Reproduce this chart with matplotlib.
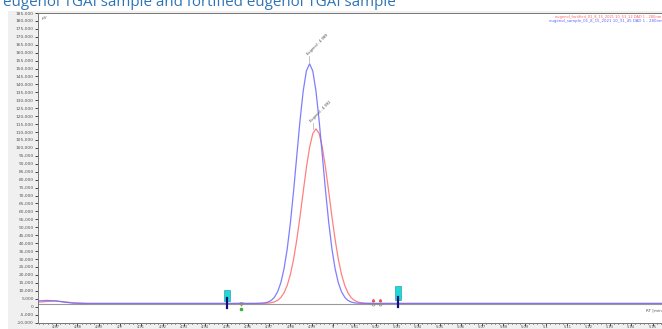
import matplotlib.pyplot as plt
import numpy as np
from matplotlib.patches import Rectangle
from matplotlib.ticker import FuncFormatter, MultipleLocator

title = "eugenol TGAI sample and fortified eugenol TGAI sample"

# retention time (min) and signal (uV)
# baseline before / after the peak
blue_pre_t = [4.8615, 4.866, 4.870, 4.874, 4.878, 4.884, 4.963]
blue_pre_v = [3600, 3900, 3600, 2800, 2200, 2000, 2000]
red_pre_t = [4.8615, 4.866, 4.870, 4.874, 4.879, 4.885, 4.966]
red_pre_v = [2800, 3300, 3500, 3000, 2300, 2000, 2000]
blue_post_t = [5.016, 5.160]
blue_post_v = [2000, 2000]
red_post_t = [5.019, 5.160]
red_post_v = [2000, 2000]

# peak region, sampled every 0.0015 min
blue_peak_t0 = 4.965
blue_peak_v = [2100, 2200, 2400, 2900, 3900, 5900, 9400, 15000, 23800, 36300, 52900,
               72900, 95100, 117000, 135800, 148500, 153000, 148500, 135800, 117000,
               95100, 72900, 52900, 36300, 23800, 15000, 9400, 5900, 3900, 2900,
               2400, 2200, 2100]
red_peak_t0 = 4.968
red_peak_v = [2100, 2200, 2500, 3000, 4000, 5700, 8700, 13400, 20300, 29900, 42200,
              56600, 72300, 87500, 100300, 109000, 112000, 109000, 100300, 87500,
              72300, 56600, 42200, 29900, 20300, 13400, 8700, 5700, 4000, 3000,
              2500, 2200, 2100]
step = 0.0015

# integration event markers
event_t = [4.9502, 5.0305]
event_lo = [3300, 4000]
event_hi = [10500, 12700]
small_marks_t = [4.9568, 5.0188, 5.0221]
peak_labels = ["Eugenol - 4.989", "Eugenol - 4.992"]
peak_label_t = [4.9885, 4.9903]
peak_label_v = [158000, 116000]
legend_texts = ["eugenol_fortified_01_8_15_2021 10_53_12 DAD 1 - 280nm",
                "eugenol_sample_01_8_15_2021 10_31_45 DAD 1 - 280nm"]

blue_t = blue_pre_t + list(blue_peak_t0 + step * np.arange(len(blue_peak_v))) + blue_post_t
blue_v = blue_pre_v + blue_peak_v + blue_post_v
red_t = red_pre_t + list(red_peak_t0 + step * np.arange(len(red_peak_v))) + red_post_t
red_v = red_pre_v + red_peak_v + red_post_v

fig = plt.figure(figsize=(6.62, 3.29), dpi=100)
fig.patch.set_facecolor("white")
bg = Rectangle((8 / 662, 0), 1, (329 - 11) / 329, transform=fig.transFigure,
               facecolor="#f0f0f0", edgecolor="none", zorder=-10)
fig.add_artist(bg)
fig.text(3 / 662, 1 - 6.5 / 329, title, color="#2e74b5", fontsize=10.9,
         family="Open Sans", va="baseline", ha="left")

ax = fig.add_axes([38 / 662, 6.5 / 329, 640 / 662, 309.5 / 329])
ax.set_facecolor("white")
ax.set_xlim(4.8615, 4.8615 + 640 / 2130)
ax.set_ylim(-10000, 185000)

ax.axhline(1800, color="#999999", lw=0.8, zorder=1)
ax.plot(red_t, red_v, color="#ff8080", lw=0.9, zorder=2)
ax.plot(blue_t, blue_v, color="#7070ff", lw=0.9, alpha=0.9, zorder=3)

for t, lo, hi in zip(event_t, event_lo, event_hi):
    ax.add_patch(Rectangle((t - 0.0013, lo), 0.0026, hi - lo, facecolor="#20d8d8",
                           edgecolor="#109090", lw=0.4, zorder=4))
    ax.plot([t, t], [lo - 4000, lo + 2000], color="#10107a", lw=1.6, zorder=5)

ax.plot(small_marks_t[0], 1800, marker="v", ms=2.5, color="#888888", mfc="none", mew=0.6, zorder=5)
ax.plot(small_marks_t[0], -1500, marker="s", ms=1.5, color="#40b040", zorder=5)
for t in small_marks_t[1:]:
    ax.plot(t, 1800, marker="o", ms=2.2, color="#888888", mfc="none", mew=0.5, zorder=5)
    ax.plot(t, 4300, marker="^", ms=1.5, color="#e05050", zorder=5)

for lbl, t, v in zip(peak_labels, peak_label_t, peak_label_v):
    ax.text(t, v, lbl, rotation=45, fontsize=2.6, color="#444444", ha="left", va="bottom",
            rotation_mode="anchor")
    ax.plot([t + 0.0004, t + 0.0004], [v - 4000, v], color="#aaaaaa", lw=0.5)

leg_red = ax.text(0.808, 0.987, legend_texts[0], transform=ax.transAxes, fontsize=3.2,
                  color="#ff6060", ha="left", va="center")
leg_blue = ax.text(0.798, 0.974, legend_texts[1], transform=ax.transAxes, fontsize=3.2,
                   color="#6060ff", ha="left", va="center")
ax.text(0.006, 0.99, "µV", transform=ax.transAxes, fontsize=3, color="#555555", va="top")
ax.text(0.950, 0.035, "RT [min]", transform=ax.transAxes, fontsize=3, color="#555555")

ax.yaxis.set_major_locator(MultipleLocator(5000))
ax.yaxis.set_major_formatter(FuncFormatter(lambda v, p: f"{v:,.0f}"))
ax.xaxis.set_major_locator(MultipleLocator(0.01))
ax.xaxis.set_minor_locator(MultipleLocator(0.002))
ax.xaxis.set_major_formatter(FuncFormatter(lambda v, p: f"{round(v, 2):g}"))
ax.tick_params(axis="y", labelsize=3.2, labelcolor="#555555", length=2, width=0.5, pad=1)
ax.tick_params(axis="x", which="both", labelsize=2.6, labelcolor="#555555", width=0.5, pad=0.3)
ax.tick_params(axis="x", which="major", length=1.8)
ax.tick_params(axis="x", which="minor", length=1.0)

for side in ["left", "bottom", "top"]:
    ax.spines[side].set_color("#777777")
    ax.spines[side].set_linewidth(0.7)
ax.spines["right"].set_visible(False)

# shrink the header texts so they end at the right edge
fig.canvas.draw()
renderer = fig.canvas.get_renderer()
for txt in [leg_red, leg_blue]:
    bb = txt.get_window_extent(renderer)
    room = 660 - bb.x0
    txt.set_fontsize(txt.get_fontsize() * room / bb.width)

fig.savefig("out.png", dpi=100)
